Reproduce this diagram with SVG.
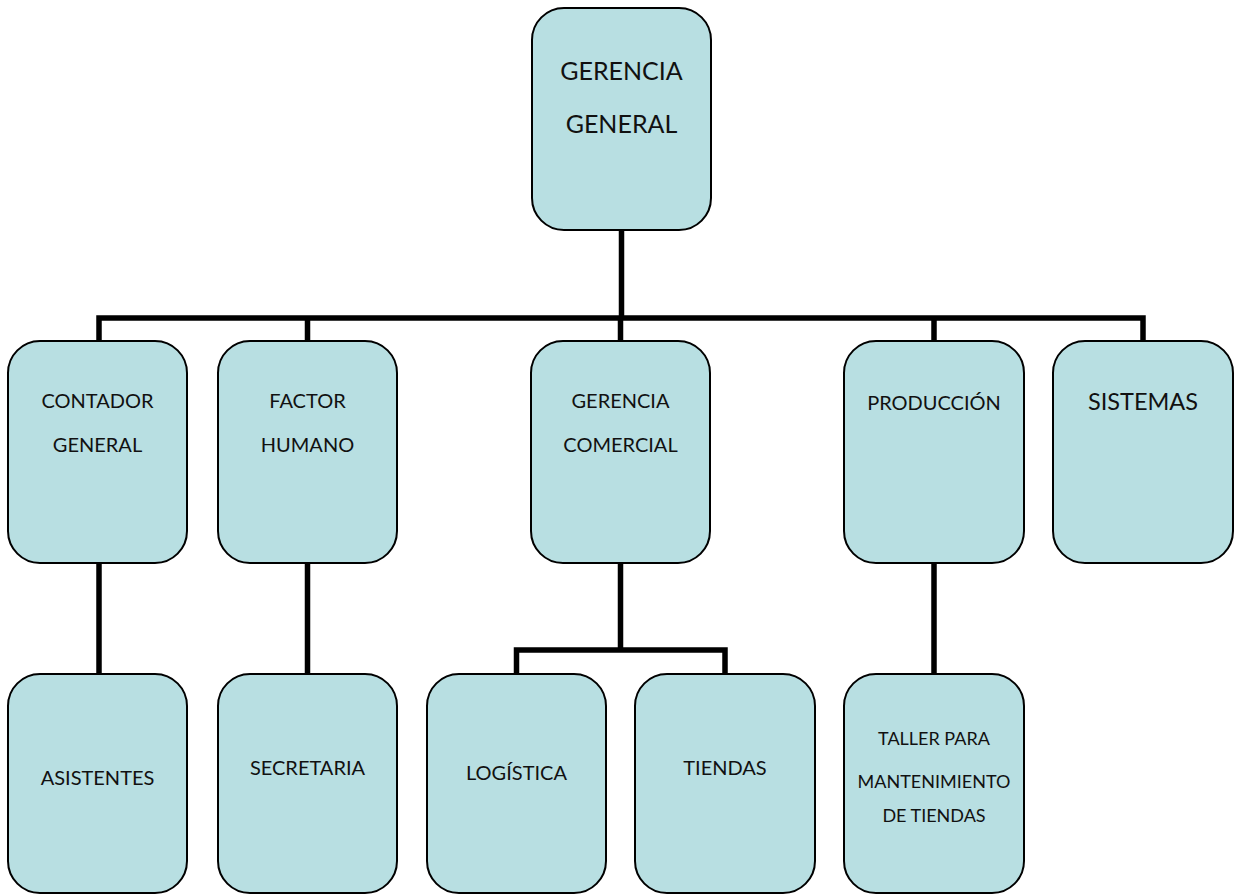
<svg xmlns="http://www.w3.org/2000/svg" width="1235" height="895" viewBox="0 0 1235 895">
<style>
.box{fill:#b8dfe2;stroke:#000;stroke-width:2}
.t{font-family:Lato,"Liberation Sans",sans-serif;font-size:20px;fill:#111;text-anchor:middle}
.big{font-size:25px}
.sys{font-size:23.5px}
.sm{font-size:18px}
.c{fill:none;stroke:#000;stroke-width:5.5;stroke-linejoin:miter}
</style>
<rect width="1235" height="895" fill="#fff"/>
<g id="connectors">
<path class="c" d="M621.5 230V318"/>
<path class="c" d="M99 341V318H1143V341"/>
<path class="c" d="M307.5 318V341M620.5 318V341M934 318V341"/>
<path class="c" d="M99 563V674M307.5 563V674M934 563V674"/>
<path class="c" d="M620.5 563V650M516.5 674V650H725V674"/>
</g>
<g id="gerencia-general"><rect class="box" x="532" y="8" width="179" height="222" rx="32"/><text class="t big" x="621.5" y="80">GERENCIA</text><text class="t big" x="621.5" y="133">GENERAL</text></g>
<g id="contador-general"><rect class="box" x="8" y="341" width="179" height="222" rx="32"/><text class="t" x="97.5" y="408">CONTADOR</text><text class="t" x="97.5" y="452">GENERAL</text></g>
<g id="factor-humano"><rect class="box" x="218" y="341" width="179" height="222" rx="32"/><text class="t" x="307.5" y="408">FACTOR</text><text class="t" x="307.5" y="452">HUMANO</text></g>
<g id="gerencia-comercial"><rect class="box" x="531" y="341" width="179" height="222" rx="32"/><text class="t" x="620.5" y="408">GERENCIA</text><text class="t" x="620.5" y="452">COMERCIAL</text></g>
<g id="produccion"><rect class="box" x="844" y="341" width="180" height="222" rx="32"/><text class="t" x="934" y="410">PRODUCCIÓN</text></g>
<g id="sistemas"><rect class="box" x="1053" y="341" width="180" height="222" rx="32"/><text class="t sys" x="1143" y="410">SISTEMAS</text></g>
<g id="asistentes"><rect class="box" x="8" y="674" width="179" height="219" rx="32"/><text class="t" x="97.5" y="785">ASISTENTES</text></g>
<g id="secretaria"><rect class="box" x="218" y="674" width="179" height="219" rx="32"/><text class="t" x="307.5" y="775">SECRETARIA</text></g>
<g id="logistica"><rect class="box" x="427" y="674" width="179" height="219" rx="32"/><text class="t" x="516.5" y="780">LOGÍSTICA</text></g>
<g id="tiendas"><rect class="box" x="635" y="674" width="180" height="219" rx="32"/><text class="t" x="725" y="775">TIENDAS</text></g>
<g id="taller"><rect class="box" x="844" y="674" width="180" height="219" rx="32"/><text class="t sm" x="934" y="745">TALLER PARA</text><text class="t sm" x="934" y="788">MANTENIMIENTO</text><text class="t sm" x="934" y="822">DE TIENDAS</text></g>
</svg>
